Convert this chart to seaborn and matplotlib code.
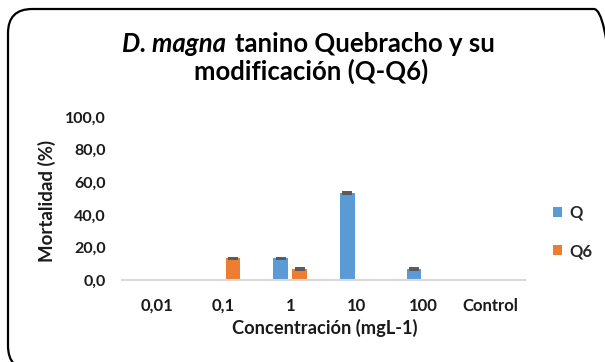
import matplotlib
matplotlib.use("Agg")
import matplotlib.pyplot as plt
from matplotlib.patches import FancyBboxPatch, Patch
import seaborn as sns
import pandas as pd

# Concentration categories and mean mortality (%) per series
concentraciones = ["0,01", "0,1", "1", "10", "100", "Control"]
mortalidad_q = [0.0, 0.0, 13.3, 53.3, 6.7, 0.0]
mortalidad_q6 = [0.0, 13.3, 6.7, 0.0, 0.0, 0.0]
error_q = [0.0, 0.0, 0.5, 0.5, 0.5, 0.0]
error_q6 = [0.0, 0.5, 0.5, 0.0, 0.0, 0.0]
series = ["Q", "Q6"]
colores = ["#5B9BD5", "#ED7D31"]
y_ticks = [0, 20, 40, 60, 80, 100]

df = pd.DataFrame({
    "conc": concentraciones * 2,
    "mort": mortalidad_q + mortalidad_q6,
    "serie": ["Q"] * len(concentraciones) + ["Q6"] * len(concentraciones),
})

sns.set_theme(style="white")
plt.rcParams["font.family"] = ["Lato", "DejaVu Sans"]
TXT = "#1a1a1a"

W, H = 605, 362
fig = plt.figure(figsize=(W / 100, H / 100), dpi=100)
renderer = fig.canvas.get_renderer()


def px_x(x):
    return x / W


def px_y(y):
    return 1 - y / H


def text_width(s, size=10, **kw):
    t = fig.text(0, 0, s, fontsize=size, **kw)
    w = t.get_window_extent(renderer).width
    t.remove()
    return w


def size_for(s, target_px, **kw):
    return 10 * target_px / text_width(s, 10, **kw)


ax = fig.add_axes([px_x(122), px_y(280), (525 - 122) / W, (280 - 117) / H])

sns.barplot(data=df, x="conc", y="mort", hue="serie", order=concentraciones,
            hue_order=series, palette=colores, width=0.56, gap=0.2,
            errorbar=None, legend=False, ax=ax, saturation=1, linewidth=0)
ax.set_xlabel("")
ax.set_ylabel("")

# Error bars on top of each non-zero bar, using the bars' own positions
vals = mortalidad_q + mortalidad_q6
errs = error_q + error_q6
for bar, v, e in zip(ax.patches, vals, errs):
    if v > 0:
        cx = bar.get_x() + bar.get_width() / 2
        ax.errorbar(cx, v, yerr=e, fmt="none", ecolor="#595959",
                    elinewidth=1.0, capsize=3.5, capthick=1.4, zorder=5)

# Tick labels sized to the chart's text widths
xt_size = size_for("Control", 56, fontweight="bold")
yt_size = size_for("100,0", 41, fontweight="bold")

ax.set_ylim(0, 100)
ax.set_yticks(y_ticks)
ax.set_yticklabels([f"{t:.1f}".replace(".", ",") for t in y_ticks],
                   fontsize=yt_size, fontweight="bold", color=TXT)
ax.set_xticks(range(len(concentraciones)))
ax.set_xticklabels(concentraciones, fontsize=xt_size, fontweight="bold", color=TXT)
for lab in ax.get_xticklabels():
    lab.set_va("baseline")
ax.tick_params(axis="y", length=0, pad=16 * 0.72)
ax.tick_params(axis="x", length=0, pad=31 * 0.72)

for s in ["top", "right", "left"]:
    ax.spines[s].set_visible(False)
ax.spines["bottom"].set_color("#D9D9D9")
ax.spines["bottom"].set_linewidth(1.5)

# Axis titles
xl = "Concentración (mgL-1)"
fig.text(px_x(324.5), px_y(334), xl, ha="center", va="baseline",
         fontsize=size_for(xl, 185, fontweight="bold"),
         fontweight="bold", color=TXT)
yl = "Mortalidad (%)"
fig.text(px_x(53), px_y(201), yl, ha="center", va="baseline", rotation=90,
         rotation_mode="anchor",
         fontsize=size_for(yl, 122, fontweight="bold"),
         fontweight="bold", color=TXT)

# Title with the italic species name
t1_ital = "D. magna"
t1_rest = "tanino Quebracho y su"
w_ital = text_width(t1_ital, 10, fontweight="bold", fontstyle="italic")
w_rest = text_width(t1_rest, 10, fontweight="bold")
w_gap = 5.0
t_size = 10 * 373 / (w_ital + w_rest + w_gap)
k = t_size / 10
fig.text(px_x(122), px_y(52), t1_ital, ha="left", va="baseline",
         fontsize=t_size, fontstyle="italic", fontweight="bold", color="black")
fig.text(px_x(122 + (w_ital + w_gap) * k), px_y(52), t1_rest, ha="left",
         va="baseline", fontsize=t_size, fontweight="bold", color="black")
t2 = "modificación (Q-Q6)"
fig.text(px_x(311), px_y(80), t2, ha="center", va="baseline",
         fontsize=size_for(t2, 234, fontweight="bold"), fontweight="bold",
         color="black")

# Legend
handles = [Patch(facecolor=c, edgecolor="none") for c in colores]
leg_size = size_for("Q6", 23, fontweight="bold")
fig.legend(handles, series, loc="center left",
           bbox_to_anchor=(px_x(553), px_y(232)),
           frameon=False, prop={"weight": "bold", "size": leg_size},
           handlelength=0.55, handleheight=0.55, handletextpad=0.45,
           labelspacing=1.35, borderaxespad=0, borderpad=0)

# Rounded outer frame
frame = FancyBboxPatch((px_x(8), px_y(370)), 610 / W, 361 / H,
                       boxstyle="round,pad=0,rounding_size=0.04",
                       transform=fig.transFigure, fill=False,
                       edgecolor="black", linewidth=1.6, clip_on=False,
                       mutation_aspect=W / H)
fig.patches.append(frame)

fig.savefig("out.png", dpi=100)
